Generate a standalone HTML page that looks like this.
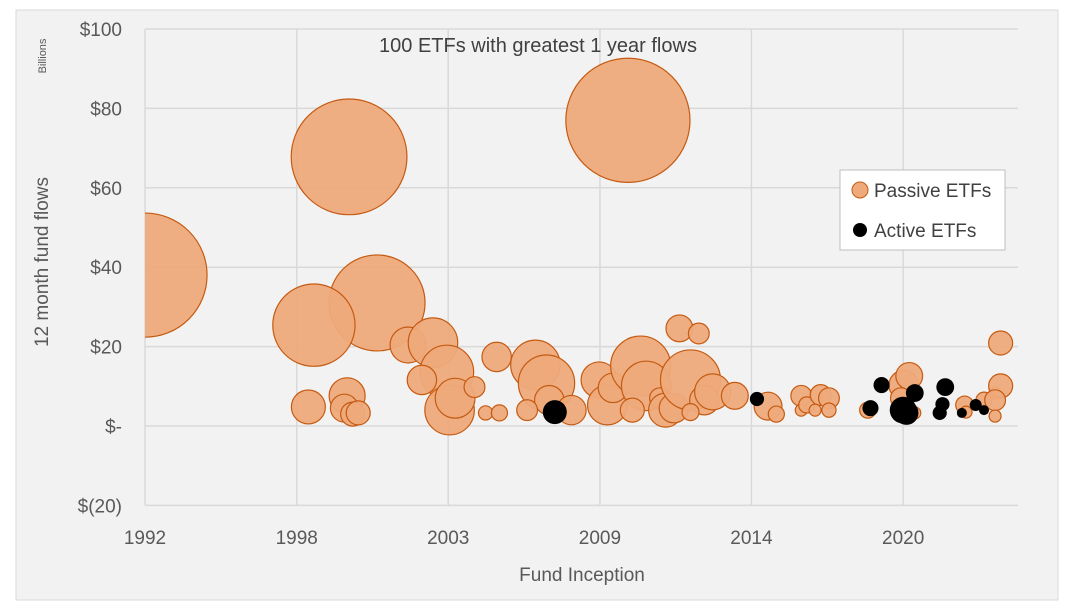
<!DOCTYPE html>
<html><head><meta charset="utf-8"><style>
body{margin:0;background:#fff;}
svg{display:block;font-family:"Liberation Sans",sans-serif;}
</style></head><body>
<svg id="c" width="1067" height="613">
<rect x="16" y="10" width="1042" height="590" fill="#f2f2f2" stroke="#d9d9d9"/>
<g id="grid"></g><g id="bub"></g><g id="ax"></g>
<text x="538" y="52" font-size="20" fill="#404040" text-anchor="middle">100 ETFs with greatest 1 year flows</text>
<text transform="translate(48,262) rotate(-90)" font-size="19" fill="#595959" text-anchor="middle">12 month fund flows</text>
<text transform="translate(46,56) rotate(-90)" font-size="11" fill="#595959" text-anchor="middle">Billions</text>
<text x="582" y="581" font-size="19" fill="#595959" text-anchor="middle">Fund Inception</text>
<g>
<rect x="840" y="170" width="165" height="80" fill="#fff" stroke="#bfbfbf"/>
<circle cx="860" cy="190" r="8" fill="#eeaa7b" stroke="#c55a11"/>
<text x="874" y="197" font-size="19" fill="#404040">Passive ETFs</text>
<circle cx="860" cy="230" r="7" fill="#000"/>
<text x="874" y="237" font-size="19" fill="#404040">Active ETFs</text>
</g>
</svg>
<script>
const xTicks=[1992,1997.48,2002.95,2008.43,2013.9,2019.38];
const xTickLabels=["1992","1998","2003","2009","2014","2020"];
const yTicks=[100,80,60,40,20,0,-20];
const yTickLabels=["$100","$80","$60","$40","$20","$-","$(20)"];
const passiveYear=[1992.0,1999.37,2009.44,2000.38,1998.1,2001.5,2002.4,2002.9,2002.0,2003.0,2003.2,2003.9,2004.7,2004.3,2004.8,1997.9,1999.3,1999.2,1999.5,1999.7,2006.1,2006.5,2006.6,2005.8,2007.4,2008.4,2008.7,2008.9,2009.9,2010.1,2009.6,2010.6,2011.3,2012.0,2010.8,2011.1,2011.7,2012.2,2012.5,2011.7,2013.3,2014.5,2014.8,2015.7,2015.7,2015.9,2016.4,2016.7,2016.2,2016.7,2018.1,2019.4,2019.6,2019.3,2019.8,2021.6,2021.65,2022.3,2022.7,2022.9,2022.7,2022.9,2022.7];
const passiveValue=[38,67.8,77,31,25.4,20.4,21,13.6,11.6,4,7,9.8,17.4,3.3,3.3,4.8,7.6,4.5,3,3.3,15.4,10.8,6.5,4,4,11.6,5.3,9.6,15.1,10.1,4,7,24.6,23.3,4,4.5,11.6,6.5,8.6,3.5,7.6,5,3,7.6,4,5.3,7.8,7,4,4,4,10.3,12.6,7,3.3,5.3,3.5,6.5,8.3,10.1,6.5,20.9,2.5];
const passiveSize=[107,93,107,64,47,9,17,20,6,17,11,3,6,1.4,1.8,8,9,5.4,4,4,17,22,6,3,6,9,11,6,25,17,4,3,5,3,8,6,25,6,9,2,5,5.4,1.8,3,1,1.8,3,3,1,1.4,1.8,6,5,3,1,2.2,1,1.8,1,4,3,4,1];
const activeYear=[2006.8,2014.1,2018.6,2018.2,2019.3,2019.38,2019.8,2019.5,2020.9,2020.8,2020.7,2021.5,2022.0,2022.3];
const activeValue=[3.5,6.8,10.3,4.5,4,4,8.3,3.3,9.8,5.5,3.3,3.3,5.3,4];
const activeSize=[4,1.4,1.8,1.8,1.8,5,2.2,4,2.2,1.4,1.4,0.7,1,0.7];
const X0=145,X1=1018,Y0=29,Y1=505;
const xs=y=>X0+(y-1992)*27.69;
const ys=v=>426-v*3.97;
const rs=s=>6*Math.sqrt(s);
const NS="http://www.w3.org/2000/svg";
const grid=document.getElementById('grid'),ax=document.getElementById('ax'),bub=document.getElementById('bub');
function mk(tag,attrs,parent){const e=document.createElementNS(NS,tag);for(const k in attrs)e.setAttribute(k,attrs[k]);parent.appendChild(e);return e;}
yTicks.forEach((v,i)=>{
 const l=mk('line',{x1:X0,x2:X1,y1:ys(v),y2:ys(v),stroke:'#d9d9d9','stroke-width':1.5},grid);
 
 
 const t=mk('text',{x:122,y:ys(v)+7,'font-size':19,fill:'#595959','text-anchor':'end'},ax);
 t.textContent=yTickLabels[i];
 
 
});
xTicks.forEach((v,i)=>{
 const l=mk('line',{x1:xs(v),x2:xs(v),y1:Y0,y2:Y1,stroke:'#d9d9d9','stroke-width':1.5},grid);
 
 
 const t=mk('text',{x:xs(v),y:544,'font-size':19,fill:'#595959','text-anchor':'middle'},ax);
 t.textContent=xTickLabels[i];
 
 
});
const clip=mk('clipPath',{id:'pc'},document.getElementById('c'));
mk('rect',{x:X0,y:0,width:1067-X0,height:613},clip);
bub.setAttribute('clip-path','url(#pc)');
passiveYear.forEach((yr,i)=>{
 const c=mk('circle',{cx:xs(yr),cy:ys(passiveValue[i]),r:rs(passiveSize[i]),fill:'#eeaa7b',stroke:'#c55a11','stroke-width':1.2,'fill-opacity':0.95},bub);
 
 
});
activeYear.forEach((yr,i)=>{
 const c=mk('circle',{cx:xs(yr),cy:ys(activeValue[i]),r:rs(activeSize[i]),fill:'#000'},bub);
 
 
});
</script>
</body></html>
